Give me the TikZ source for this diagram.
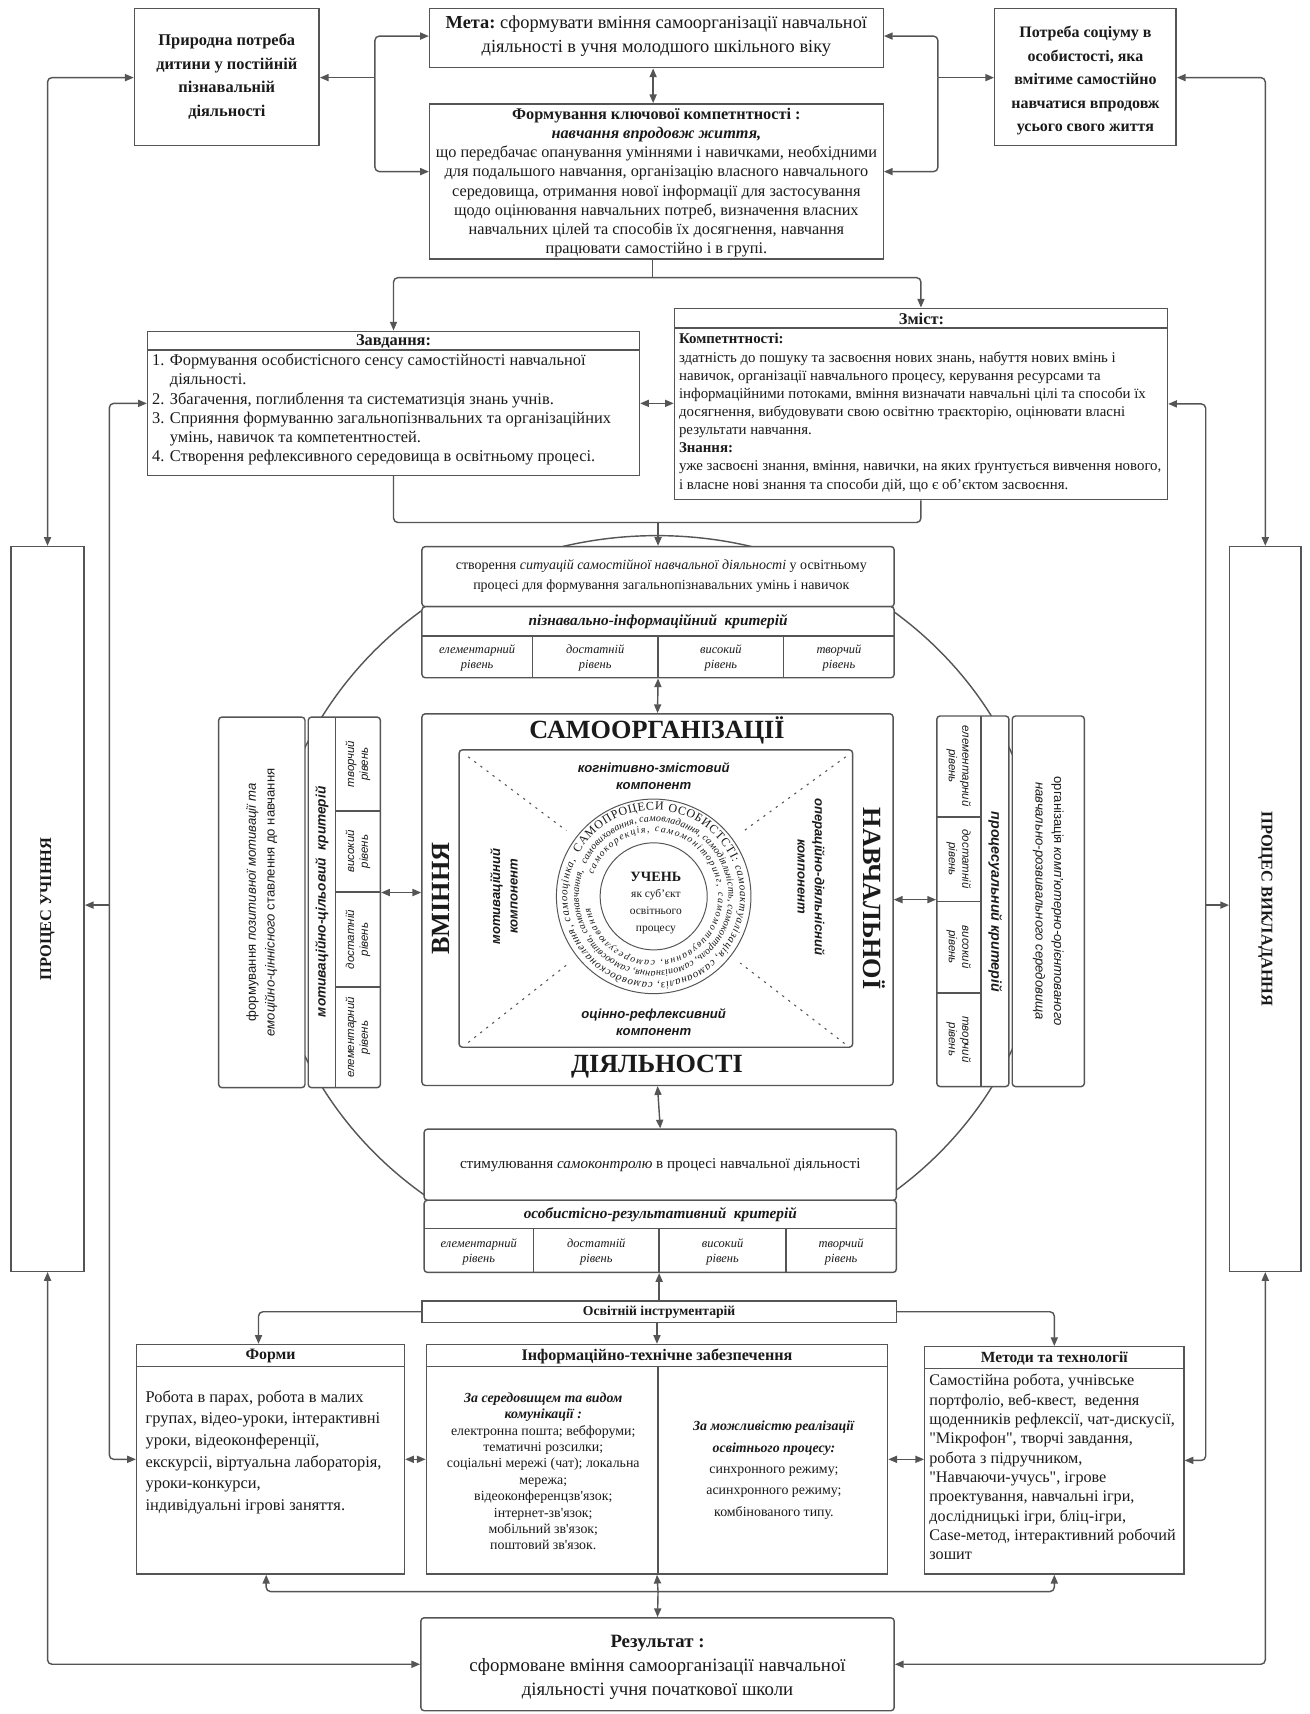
\documentclass[tikz,border=0pt]{standalone}
\usepackage{fontspec}
\setmainfont{Liberation Serif}[Ligatures=TeXOff]
\setsansfont{Liberation Sans}
\usetikzlibrary{arrows.meta,calc,fit,decorations.text}
\definecolor{lc}{HTML}{555555}
\definecolor{tc}{HTML}{1A1A1A}
\newcommand\fsz[2]{\fontsize{#1}{#2}\selectfont}
\begin{document}
\begin{tikzpicture}[x=1pt,y=-1pt,
  every node/.style={text=tc},
  box/.style={draw=lc, line width=1.3pt, fill=white, inner sep=0pt},
  rbox/.style={box, rounded corners=3pt},
  ln/.style={draw=lc, line width=1.3pt},
  arr/.style={ln, rounded corners=4pt, -{Triangle[length=8pt,width=6.5pt]}},
  darr/.style={ln, rounded corners=4pt, {Triangle[length=8pt,width=6.5pt]}-{Triangle[length=8pt,width=6.5pt]}},
  txt/.style={inner sep=0pt, align=center},
  lvl/.style={txt, font=\itshape\fsz{11.4}{13.5}},
  slvl/.style={txt, font=\sffamily\itshape\fsz{10.5}{12.5}},
  crit/.style={txt, font=\bfseries\itshape\fsz{14}{15}},
  comp/.style={txt, font=\sffamily\bfseries\itshape\fsz{12}{16}},
  big/.style={txt, font=\bfseries\fsz{24}{24}},
]
\fill[white] (0,0) rectangle (1198,1568);
\useasboundingbox (0,0) rectangle (1198,1568);

% big ellipse behind
\draw[ln] (601,825) ellipse[x radius=355, y radius=335];

% ---------- top row ----------
\node[box, fit={(123,8) (292,133)}] (need) {};
\node[txt, font=\bfseries\fsz{15}{21.5}] (needt) at (207.5,70) {Природна потреба\\дитини у постійній\\пізнавальній\\діяльності};
\node[box, fit={(393,8) (808,62)}] (meta) {};
\node[txt, font=\fsz{16.8}{22}] (metat) at (600.5,33) {\textbf{Мета:}~сформувати вміння самоорганізації навчальної\\діяльності в учня молодшого шкільного віку};
\node[box, fit={(910,8) (1076,133)}] (soc) {};
\node[txt, font=\bfseries\fsz{14.6}{21.5}] (soct) at (993,74) {Потреба соціуму в\\особистості, яка\\вмітиме самостійно\\навчатися впродовж\\усього свого життя};
\node[box, fit={(393,95) (808,237)}] (form) {};
\node[txt, font=\fsz{14.9}{17.6}] (formt) at (600.5,167) {\textbf{Формування ключової компетнтності :}\\\textbf{\textit{навчання впродовж життя,}}\\що передбачає опанування уміннями і навичками, необхідними\\для подальшого навчання, організацію власного навчального\\середовища, отримання нової інформації для застосування\\щодо оцінювання навчальних потреб, визначення власних\\навчальних цілей та способів їх досягнення, навчання\\працювати самостійно і в групі.};

% ---------- Завдання / Зміст ----------
\node[box, fit={(135,303) (585,435)}] (zav) {};
\draw[ln] (135,320) -- (585,320);
\node[txt, font=\bfseries\fsz{15}{17}] (zavh) at (360,312.5) {Завдання:};
\node[anchor=north west, inner sep=0pt, align=left, font=\fsz{15}{17.6}] (zavt) at (139,323.5) {1. Формування особистісного сенсу самостійності навчальної\\\hphantom{1. }діяльності.\\2. Збагачення, поглиблення та систематизція знань учнів.\\3. Сприяння формуванню загальнопізнвальних та організаційних\\\hphantom{3. }умінь, навичок та компетентностей.\\4. Створення рефлексивного середовища в освітньому процесі.};

\node[box, fit={(617,282) (1068,457)}] (zm) {};
\draw[ln] (617,300) -- (1068,300);
\node[txt, font=\bfseries\fsz{15}{17}] (zmh) at (843,292) {Зміст:};
\node[anchor=north west, inner sep=0pt, align=left, font=\fsz{13.6}{16.6}] (zmt) at (621,305) {\textbf{Компетнтності:}\\здатність до пошуку та засвоєння нових знань, набуття нових вмінь і\\навичок, організації навчального процесу, керування ресурсами та\\інформаційними потоками, вміння визначати навчальні цілі та способи їх\\досягнення, вибудовувати свою освітню траєкторію, оцінювати власні\\результати навчання.\\\textbf{Знання:}\\уже засвоєні знання, вміння, навички, на яких ґрунтується вивчення нового,\\і власне нові знання та способи дій, що є об’єктом засвоєння.};

% ---------- process boxes ----------
\node[box, fit={(10,500) (77,1163)}] (pu) {};
\node[txt, rotate=90, font=\bfseries\fsz{15}{15}] (put) at (pu.center) {ПРОЦЕС УЧІННЯ};
\node[box, fit={(1125,500) (1190,1163)}] (pv) {};
\node[txt, rotate=-90, font=\bfseries\fsz{15}{15}] (pvt) at (pv.center) {ПРОЦЕС ВИКЛАДАННЯ};

% ---------- top table ----------
\node[rbox, fit={(386,500) (818,555)}] (sbox) {};
\node[txt, font=\fsz{12.8}{19}] (sboxt) at (605,527) {створення \textit{ситуацій самостійної навчальної діяльності} у освітньому\\процесі для формування загальнопізнавальних умінь і навичок};
\node[rbox, fit={(386,555) (818,620)}] (tbl1) {};
\draw[ln] (386,582) -- (818,582);
\foreach \x in {487,602,717} \draw[ln] (\x,582) -- (\x,620);
\node[crit] (c1t) at (602,568.5) {пізнавально-інформаційний\ \ критерій};
\node[lvl] (l11) at (436.5,602) {елементарний\\рівень};
\node[lvl] (l12) at (544.5,602) {достатній\\рівень};
\node[lvl] (l13) at (659.5,602) {високий\\рівень};
\node[lvl] (l14) at (767.5,602) {творчий\\рівень};

% ---------- central box ----------
\node[rbox, fit={(386,653) (817,993)}] (cen) {};
\node[rbox, fit={(420,686) (780,958)}] (inner) {};
\node[big] (w1) at (601,668) {САМООРГАНІЗАЦІЇ};
\node[big] (w2) at (601,976) {ДІЯЛЬНОСТІ};
\node[big, rotate=90] (w3) at (403,822) {ВМІННЯ};
\node[big, rotate=-90] (w4) at (800,822) {НАВЧАЛЬНОЇ};
\node[comp] (k1) at (598,710) {когнітивно-змістовий\\компонент};
\node[comp] (k2) at (598,935) {оцінно-рефлексивний\\компонент};
\node[comp, rotate=90] (k3) at (461,820) {мотиваційний\\компонент};
\node[comp, rotate=-90] (k4) at (742,802) {операційно-діяльнісний\\компонент};

\coordinate (cc) at (598,820);
\coordinate (d1) at ($(inner.north west)+(9,7)$);
\coordinate (d2) at ($(inner.north east)+(-7,7)$);
\coordinate (d3) at ($(inner.south west)+(9,-5)$);
\coordinate (d4) at ($(inner.south east)+(-8,-4)$);
\foreach \d in {d1,d2,d3,d4}
  \draw[ln, line width=1pt, dash pattern=on 2pt off 5pt] (\d) -- ($(cc)!100pt!(\d)$);

\node[circle, draw=lc, line width=0.9pt, minimum size=178pt, inner sep=0pt] (ring) at (cc) {};
\node[circle, draw=lc, line width=0.9pt, minimum size=98pt, inner sep=0pt] (core) at (cc) {};
\path[decorate, decoration={text along path, text align=fit to path, text color=tc,
  text={|\fsz{11}{11}|САМОПРОЦЕСИ ОСОБИСТСТІ: |\itshape\fsz{10}{10}|самоактуалізація, самоаналіз, самовдосконалення, самооцінка,}}]
  ($(cc)+(-150:79)$) arc[start angle=-150, end angle=205, radius=79];
\path[decorate, decoration={text along path, text align=fit to path, text color=tc,
  text={|\itshape\fsz{9.2}{9.2}|самовиховання, самовладання, самодіяльність, самоконтроль, самопізнання, самоосвіта, самонавчання,}}]
  ($(cc)+(-155:68.5)$) arc[start angle=-155, end angle=200, radius=68.5];
\path[decorate, decoration={text along path, text align=fit to path, text color=tc,
  text={|\itshape\fsz{9}{9}|самокорекція, самомоніторинг, самомотивування, саморегулювання}}]
  ($(cc)+(-160:59)$) arc[start angle=-160, end angle=170, radius=59];
\node[txt, font=\bfseries\fsz{13}{13}] (uch) at (600,802) {УЧЕНЬ};
\node[txt, font=\fsz{10.5}{15.5}] (uch2) at (600,834) {як суб’єкт\\освітнього\\процесу};

% ---------- left panel ----------
\node[rbox, fit={(200,656) (279,995)}] (lform) {};
\node[txt, rotate=90, font=\sffamily\fsz{12}{17}] (lformt) at (lform.center) {формування \textit{позитивної мотивації та}\\\textit{емоційно-ціннісного} ставлення до навчання};
\node[rbox, fit={(282,656) (348,995)}] (lcrit) {};
\draw[ln] (307,656) -- (307,995);
\foreach \y in {742,816,903} \draw[ln] (307,\y) -- (348,\y);
\node[txt, rotate=90, font=\sffamily\bfseries\itshape\fsz{12.5}{13}] (lct) at (294.5,825) {мотиваційно-цільовий\ \ критерій};
\node[slvl, rotate=90] (ll1) at (327.5,699) {творчий\\рівень};
\node[slvl, rotate=90] (ll2) at (327.5,779) {високий\\рівень};
\node[slvl, rotate=90] (ll3) at (327.5,859.5) {достатній\\рівень};
\node[slvl, rotate=90] (ll4) at (327.5,949) {елементарний\\рівень};

% ---------- right panel ----------
\node[rbox, fit={(857,655) (923,994)}] (rlev) {};
\draw[ln] (897.5,655) -- (897.5,994);
\foreach \y in {747.5,824.5,908.5} \draw[ln] (857,\y) -- (897.5,\y);
\node[slvl, rotate=-90] (rl1) at (877,701) {елементарний\\рівень};
\node[slvl, rotate=-90] (rl2) at (877,786) {достатній\\рівень};
\node[slvl, rotate=-90] (rl3) at (877,866.5) {високий\\рівень};
\node[slvl, rotate=-90] (rl4) at (877,951) {творчий\\рівень};
\node[txt, rotate=-90, font=\sffamily\bfseries\itshape\fsz{13}{13}] (rct) at (910.5,825) {процесуальний критерій};
\node[rbox, fit={(926,655) (992,994)}] (rorg) {};
\node[txt, rotate=-90, font=\sffamily\fsz{12}{17}] (rorgt) at (rorg.center) {організація \textit{комп'ютерно-орієнтованого}\\\textit{навчально-розвивального середовища}};

% ---------- bottom table ----------
\node[rbox, fit={(388,1033) (820,1098)}] (stim) {};
\node[txt, font=\fsz{13.8}{16}] (stimt) at (604,1065.5) {стимулювання \textit{самоконтролю} в процесі навчальної діяльності};
\node[rbox, fit={(388,1098) (820,1164)}] (tbl2) {};
\draw[ln] (388,1124) -- (820,1124);
\foreach \x in {488,603,719} \draw[ln] (\x,1124) -- (\x,1164);
\node[crit] (c2t) at (604,1111.5) {особистісно-результативний\ \ критерій};
\node[lvl] (l21) at (438,1145) {елементарний\\рівень};
\node[lvl] (l22) at (545.5,1145) {достатній\\рівень};
\node[lvl] (l23) at (661,1145) {високий\\рівень};
\node[lvl] (l24) at (769.5,1145) {творчий\\рівень};

% ---------- instruments ----------
\node[box, fit={(386,1190) (820,1210)}] (osv) {};
\node[txt, font=\bfseries\fsz{12.5}{12.5}] (osvt) at (603,1200.5) {Освітній інструментарій};

\node[box, fit={(125,1230) (370,1440)}] (formy) {};
\draw[ln] (125,1250) -- (370,1250);
\node[txt, font=\bfseries\fsz{14.5}{14.5}] (formyh) at (247.5,1240.5) {Форми};
\node[anchor=north west, inner sep=0pt, align=left, font=\fsz{15}{19.7}] (formyt) at (133,1272) {Робота в парах, робота в малих\\групах, відео-уроки, інтерактивні\\уроки, відеоконференції,\\екскурсіі, віртуальна лабораторія,\\уроки-конкурси,\\індивідуальні ігрові заняття.};

\node[box, fit={(390,1230) (812,1440)}] (info) {};
\draw[ln] (390,1250) -- (812,1250);
\draw[ln] (602,1250) -- (602,1440);
\node[txt, font=\bfseries\fsz{14.8}{14.8}] (infoh) at (601,1240.5) {Інформаційно-технічне забезпечення};
\node[txt, font=\fsz{12.7}{15}] (infol) at (497,1346) {\textbf{\textit{За середовищем та видом}}\\\textbf{\textit{комунікації :}}\\електронна пошта; вебфоруми;\\тематичні розсилки;\\соціальні мережі (чат); локальна\\мережа;\\відеоконференцзв'язок;\\інтернет-зв'язок;\\мобільний зв'язок;\\поштовий зв'язок.};
\node[txt, font=\fsz{12.7}{19.5}] (infor) at (708,1345) {\textbf{\textit{За можливістю реалізації}}\\\textbf{\textit{освітнього процесу:}}\\синхронного режиму;\\асинхронного режиму;\\комбінованого типу.};

\node[box, fit={(846,1232) (1083,1440)}] (metody) {};
\draw[ln] (846,1252) -- (1083,1252);
\node[txt, font=\bfseries\fsz{14.2}{14.2}] (metodyh) at (964.5,1242.5) {Методи та технології};
\node[anchor=north west, inner sep=0pt, align=left, font=\fsz{14.8}{17.7}] (metodyt) at (850,1257) {Самостійна робота, учнівське\\портфоліо, веб-квест,\ \ ведення\\щоденників рефлексії, чат-дискусії,\\"Мікрофон", творчі завдання,\\робота з підручником,\\"Навчаючи-учусь", ігрове\\проектування, навчальні ігри,\\дослідницькі ігри, бліц-ігри,\\Case-метод, інтерактивний робочий\\зошит};

\node[rbox, fit={(385,1480) (818,1565)}] (rez) {};
\node[txt, font=\fsz{17.2}{22}] (rezt) at (601.5,1525) {\textbf{Результат :}\\сформоване вміння самоорганізації навчальної\\діяльності учня початкової школи};

% ---------- connectors ----------
\coordinate (jl) at (343,71);
\coordinate (jr) at (858,71);
\draw[arr] (jl) -- (need.east |- jl);
\draw[arr] (jl) |- ([yshift=2pt]meta.west);
\draw[arr] (jl) |- ([yshift=9pt]form.west);
\draw[arr] (jr) -- (soc.west |- jr);
\draw[arr] (jr) |- ([yshift=2pt]meta.east);
\draw[arr] (jr) |- ([yshift=9pt]form.east);
\draw[darr] ([xshift=-3pt]meta.south) -- ([xshift=-3pt]form.north);

\draw[darr] (need.west |- jl) -| (pu.north);
\draw[darr] (soc.east |- jr) -| (pv.north);
\draw[darr] (pu.south) |- (rez.west);
\draw[darr] (pv.south) |- (rez.east);

\coordinate (js) at (597,254);
\draw[ln] (js |- form.south) -- (js);
\draw[arr] (js) -| (zav.north);
\draw[arr] (js) -| (zm.north);
\draw[darr] (zav.east) -- (zav.east -| zm.west);

\coordinate (jm) at (602,478);
\draw[ln, rounded corners=4pt] (zav.south) |- (jm);
\draw[ln, rounded corners=4pt] (zm.south) |- (jm);
\draw[arr] (jm) -- (sbox.north);

\coordinate (il) at (100,828);
\coordinate (ir) at (1103,828);
\draw[darr] (zav.west) -| (il) |- (formy.west);
\draw[arr] (il) -- (pu.east |- il);
\draw[darr] (zm.east) -| (ir) |- (metody.east);
\draw[arr] (ir) -- (pv.west |- ir);

\draw[darr] (tbl1.south) -- (cen.north);
\draw[darr] (cen.south) -- (stim.north);
\path ([yshift=9pt]lcrit.east) coordinate (pl);
\draw[darr] (pl) -- (pl -| cen.west);
\draw[darr] (cen.east) -- (cen.east -| rlev.west);

\draw[arr] (osv.north) -- (osv.north |- tbl2.south);
\draw[arr] (osv.west) -| ([xshift=-11pt]formy.north);
\draw[arr] (osv.east) -| (metody.north);
\draw[arr] (info.north |- osv.south) -- (info.north);

\draw[darr] (formy.east) -- (formy.east -| info.west);
\draw[darr] (info.east) -- (info.east -| metody.west);

\coordinate (bus) at (602,1456);
\draw[arr] (bus) -| ([xshift=-4pt]formy.south);
\draw[arr] (bus) -| (metody.south);
\draw[arr] (bus) -- (info.south);
\draw[arr] (bus) -- (rez.north);
\end{tikzpicture}
\end{document}
